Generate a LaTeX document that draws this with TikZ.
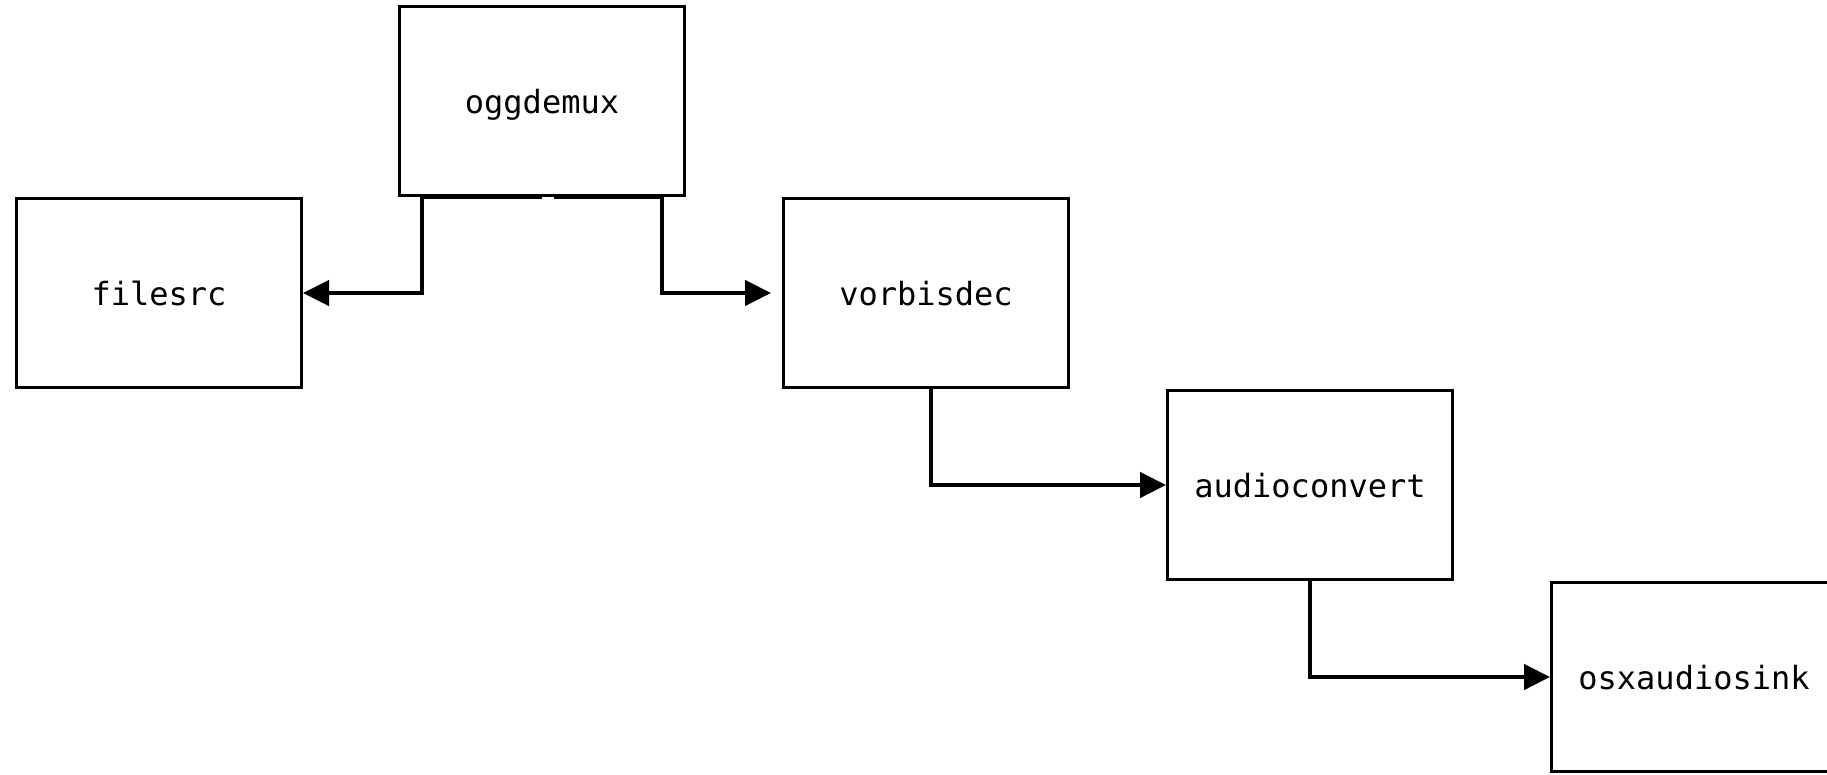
\documentclass[tikz,border=0pt]{standalone}
\usepackage{fontspec}
\setmonofont{DejaVu Sans Mono}
\usetikzlibrary{arrows.meta}
\begin{document}
\begin{tikzpicture}[x=1pt,y=-1pt,
  box/.style={draw, line width=3pt, minimum width=285pt, minimum height=189pt, inner sep=0pt,
    text height=25pt, text depth=0pt,
    font=\ttfamily\fontsize{32}{36}\selectfont},
  conn/.style={line width=4.5pt, -{Triangle[length=26pt,width=25pt]}}]
\useasboundingbox (0,0) rectangle (1827,774);
\clip (0,0) rectangle (1827,774);
\node[box] (ogg) at (542,101) {oggdemux};
\node[box] (file) at (159,293) {filesrc};
\node[box] (vorb) at (926,293) {vorbisdec};
\node[box] (aud) at (1310,485) {audioconvert};
\node[box] (osx) at (1694,677) {osxaudiosink};
\draw[conn] (ogg.south) -- ([xshift=24pt]ogg.south west) |- (file.east);
\draw[conn] ([xshift=12pt]ogg.south) -- ([xshift=-24pt]ogg.south east) |- ([xshift=-11pt]vorb.west);
\draw[conn] ([xshift=5pt]vorb.south) |- (aud.west);
\draw[conn] (aud.south) |- (osx.west);
\end{tikzpicture}
\end{document}
